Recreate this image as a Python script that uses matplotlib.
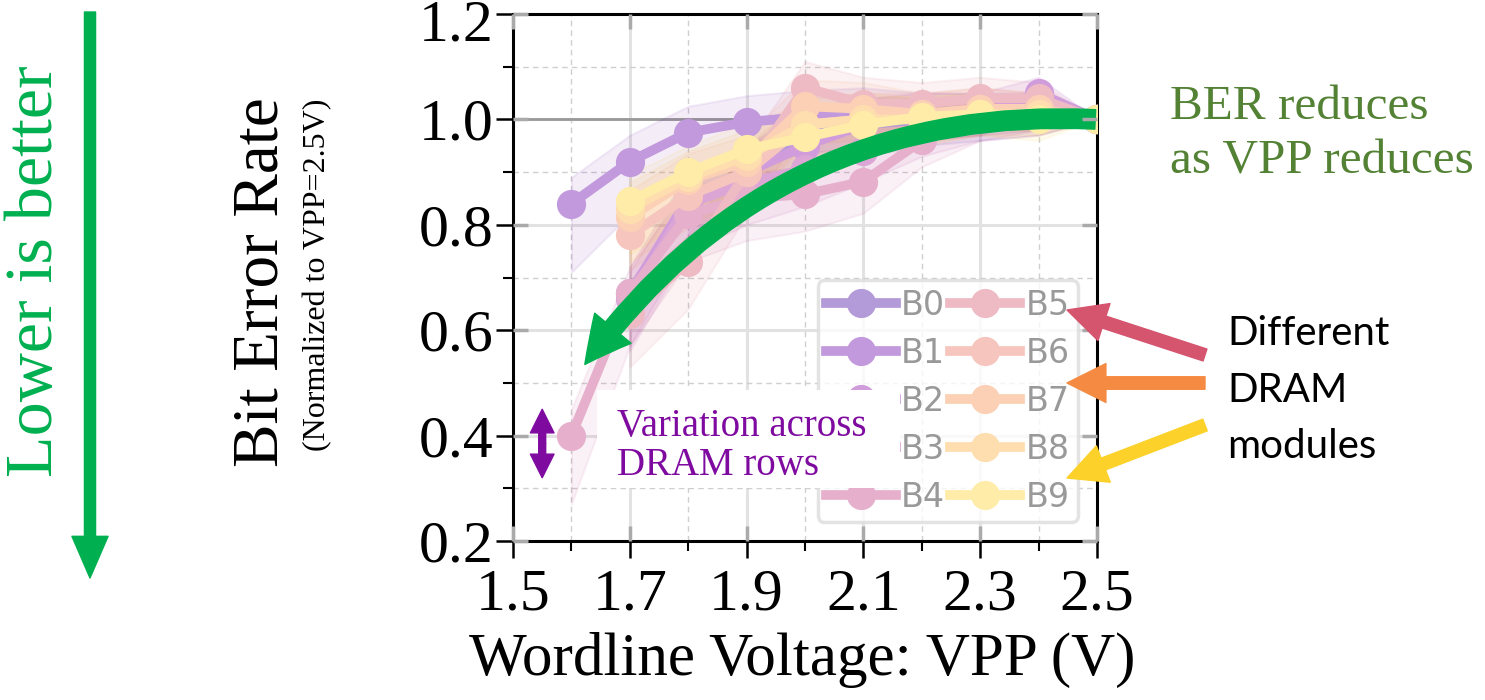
import matplotlib
matplotlib.use("Agg")
import matplotlib.pyplot as plt
import numpy as np
from matplotlib.patches import FancyArrowPatch, Rectangle
from matplotlib.ticker import MultipleLocator
from matplotlib.transforms import ScaledTranslation

plt.rcParams['font.family'] = ['Liberation Serif', 'DejaVu Serif']

W, H = 1485, 700
nan = np.nan

# wordline voltage (V)
vpp = [1.6, 1.7, 1.8, 1.9, 2.0, 2.1, 2.2, 2.3, 2.4, 2.5]

# BER normalized to VPP=2.5V, one list per module
b0 = [nan, nan, 0.84, 0.90, 0.97, 0.99, 1.00, 1.00, 1.01, 1.00]
b1 = [0.84, 0.92, 0.975, 0.995, 1.005, 1.01, 1.01, 1.01, 1.02, 1.00]
b2 = [nan, 0.67, 0.85, 0.90, 0.95, 0.99, 1.01, 1.01, 1.05, 1.00]
b3 = [nan, 0.66, 0.84, 0.88, 0.905, 0.94, 0.98, 1.00, 1.02, 1.00]
b4 = [0.40, 0.67, 0.82, 0.85, 0.858, 0.882, 0.96, 1.00, 1.01, 1.00]
b5 = [nan, 0.63, 0.73, 0.90, 1.06, 1.03, 1.03, 1.04, 1.04, 1.00]
b6 = [nan, 0.78, 0.855, 0.90, 0.99, 1.00, 1.01, 1.02, 1.02, 1.00]
b7 = [nan, 0.815, 0.885, 0.92, 1.025, 1.02, 1.01, 1.02, 1.02, 1.00]
b8 = [nan, 0.83, 0.89, 0.93, 0.99, 1.00, 1.00, 1.01, 1.01, 1.00]
b9 = [nan, 0.845, 0.90, 0.943, 0.966, 0.99, 1.005, 1.01, 1.00, 1.00]

labels = ["B0", "B1", "B2", "B3", "B4", "B5", "B6", "B7", "B8", "B9"]
series = [b0, b1, b2, b3, b4, b5, b6, b7, b8, b9]

# spread across DRAM rows (below / above the mean)
row_lo = [0.13, 0.10, 0.09, 0.08, 0.07, 0.06, 0.05, 0.04, 0.04, 0.0]
row_hi = [0.05, 0.05, 0.05, 0.05, 0.05, 0.05, 0.04, 0.04, 0.03, 0.0]

x_ticks = [1.5, 1.7, 1.9, 2.1, 2.3, 2.5]
y_ticks = [0.2, 0.4, 0.6, 0.8, 1.0, 1.2]

cmap = plt.get_cmap('plasma')
base = [np.array(cmap(t)[:3]) for t in np.linspace(0.1, 0.9, 10)]
pastel = [1 - 0.4 * (1 - c) for c in base]

fig = plt.figure(figsize=(W / 100, H / 100), dpi=100)
ax = fig.add_axes([513 / W, 1 - 541 / H, 584 / W, 527 / H])

x = np.array(vpp)
for i, (lab, y) in enumerate(zip(labels, series)):
    y = np.array(y)
    ax.fill_between(x, y - np.array(row_lo), y + np.array(row_hi),
                    color=base[i], alpha=0.07, lw=1.5, zorder=2)
    ax.plot(x, y, '-o', color=pastel[i], lw=7, ms=20, label=lab, zorder=3 + i * 0.1)

ax.axhline(1.0, color='#999999', lw=2, zorder=1.5)

ax.set_xlim(1.5, 2.5)
ax.set_ylim(0.2, 1.2)
ax.set_xticks(x_ticks)
ax.set_yticks(y_ticks)
ax.xaxis.set_minor_locator(MultipleLocator(0.1))
ax.yaxis.set_minor_locator(MultipleLocator(0.1))
ax.set_axisbelow(True)
ax.grid(which='major', color='#e2e2e2', lw=2.2, ls='-')
ax.grid(which='minor', color='#cfcfcf', lw=1, ls=(0, (4, 3)))
ax.tick_params(which='major', direction='out', length=12, width=1.8,
               labelsize=43, pad=2)
ax.tick_params(axis='x', which='major', pad=8)
ax.tick_params(which='minor', direction='out', length=7, width=1.5)
for s in ax.spines.values():
    s.set_linewidth(2.2)

# keep the top label inside the figure
top_lbl = ax.yaxis.get_major_ticks()[-1].label1
top_lbl.set_transform(top_lbl.get_transform() + ScaledTranslation(0, -4 / 72, fig.dpi_scale_trans))

# grey inward ticks
ax2 = fig.add_axes(ax.get_position(), frameon=False, sharex=ax, sharey=ax)
ax2.tick_params(which='major', direction='in', length=11, width=2.5, color='#aaaaaa',
                top=True, right=True, labelbottom=False, labelleft=False)
ax2.tick_params(which='minor', length=0)
ax2.patch.set_visible(False)

leg = ax.legend(ncol=2, loc='lower right', bbox_to_anchor=(0.967, 0.036),
                borderaxespad=0, prop={'family': 'DejaVu Sans', 'size': 24},
                labelcolor='#999999', handlelength=2.1, handletextpad=0.15,
                columnspacing=0.15, labelspacing=0.45, borderpad=0.25,
                framealpha=0.8, edgecolor='#dddddd')
leg.get_frame().set_linewidth(2.5)
leg.set_zorder(5)

# white box behind the row-variation note
ax.add_patch(Rectangle((597 / W, 1 - 488 / H), 303 / W, 98 / H, transform=fig.transFigure,
                       facecolor='white', edgecolor='none', zorder=6, clip_on=False))
fig.text(617 / W, 1 - 446 / H, "Variation across\nDRAM rows", color='#7f0aa0',
         fontsize=28, ha='left', va='center', linespacing=1.05, zorder=7)
mid = (0.45 + 0.32) / 2
for end in (0.45, 0.32):
    ax.add_patch(FancyArrowPatch((1.55, mid), (1.55, end),
                                 arrowstyle='simple,head_length=17,head_width=17,tail_width=5',
                                 mutation_scale=1, color='#7f0aa0', zorder=7,
                                 shrinkA=0, shrinkB=0))

# big green trend arrow
ax.add_patch(FancyArrowPatch((2.497, 1.0), (1.623, 0.535),
                             connectionstyle='arc3,rad=0.27',
                             arrowstyle='simple,head_length=33,head_width=34,tail_width=14',
                             mutation_scale=1, color='#00b050', zorder=8,
                             shrinkA=0, shrinkB=0, clip_on=False))

# labels
fig.text(802 / W, 1 - 660 / H, "Wordline Voltage: VPP (V)", fontsize=44,
         ha='center', va='center')
fig.text(262 / W, 1 - 282 / H, "Bit Error Rate", fontsize=47, rotation=90,
         ha='center', va='center')
fig.text(318 / W, 1 - 275 / H, "(Normalized to VPP=2.5V)", fontsize=23, rotation=90,
         ha='center', va='center')

fig.text(36 / W, 1 - 271 / H, "Lower is better", fontsize=49, rotation=90,
         color='#00b050', ha='center', va='center')
fig.patches.append(FancyArrowPatch((90 / W, 1 - 12 / H), (90 / W, 1 - 578 / H),
                                   transform=fig.transFigure,
                                   arrowstyle='simple,head_length=30,head_width=26,tail_width=8',
                                   mutation_scale=1, color='#00b050', shrinkA=0, shrinkB=0))

fig.text(1170 / W, 1 - 134 / H, "BER reduces\nas VPP reduces", fontsize=35.5,
         color='#548235', ha='left', va='center', linespacing=1.3)
fig.text(1227 / W, 1 - 390 / H, "Different\nDRAM\nmodules", fontsize=29,
         family=['Lato', 'DejaVu Sans'], ha='left', va='center', linespacing=1.65)

for (x0, y0), (x1, y1), col in [((1205, 355), (1067, 310), '#d5546e'),
                                ((1205, 383), (1067, 383), '#f58b42'),
                                ((1205, 425), (1067, 478), '#fbd12a')]:
    fig.patches.append(FancyArrowPatch((x0 / W, 1 - y0 / H), (x1 / W, 1 - y1 / H),
                                       transform=fig.transFigure,
                                       arrowstyle='simple,head_length=28,head_width=28,tail_width=9',
                                       mutation_scale=1, color=col, shrinkA=0, shrinkB=0))

fig.savefig('out.png', dpi=100)
